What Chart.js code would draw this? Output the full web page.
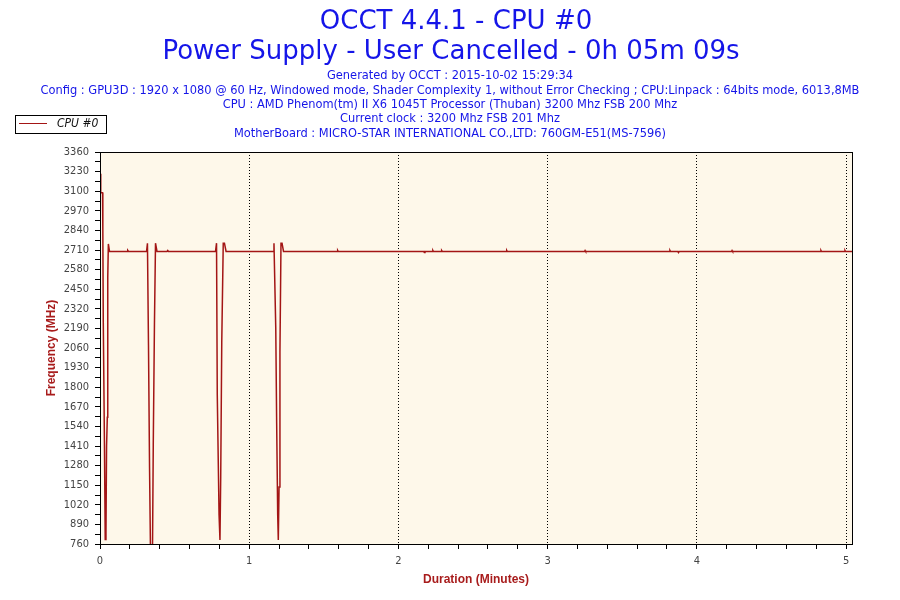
<!DOCTYPE html>
<html>
<head>
<meta charset="utf-8">
<title>OCCT 4.4.1 - CPU #0</title>
<script src="https://cdn.jsdelivr.net/npm/chart.js@4.4.0/dist/chart.umd.min.js"></script>
<style>
  html, body { margin: 0; padding: 0; background: #fff; }
  #chart { display: block; }
</style>
</head>
<body>
<canvas id="chart" width="900" height="600"></canvas>
<script>
// Header texts
const titleLines = ['OCCT 4.4.1 - CPU #0', 'Power Supply - User Cancelled - 0h 05m 09s'];
const infoLines = [
  'Generated by OCCT : 2015-10-02 15:29:34',
  'Config : GPU3D : 1920 x 1080 @ 60 Hz, Windowed mode, Shader Complexity 1, without Error Checking ; CPU:Linpack : 64bits mode, 6013,8MB',
  'CPU : AMD Phenom(tm) II X6 1045T Processor (Thuban) 3200 Mhz FSB 200 Mhz',
  'Current clock : 3200 Mhz FSB 201 Mhz',
  'MotherBoard : MICRO-STAR INTERNATIONAL CO.,LTD: 760GM-E51(MS-7596)'
];
const seriesName = 'CPU #0';

// Duration in minutes, frequency in MHz
const durationMinutes = [
  0.000, 0.005, 0.017, 0.019, 0.022, 0.030, 0.035, 0.040, 0.044, 0.049, 0.052, 0.056, 0.064,
  0.181, 0.186, 0.191,
  0.312, 0.318, 0.325, 0.332, 0.338, 0.352, 0.357, 0.365, 0.372, 0.382,
  0.449, 0.454, 0.459,
  0.774, 0.781, 0.786, 0.798, 0.804, 0.809, 0.816, 0.826, 0.834, 0.845,
  1.160, 1.166, 1.178, 1.184, 1.191, 1.195, 1.200, 1.206, 1.213, 1.220, 1.230,
  1.589, 1.593, 1.597,
  2.170, 2.174, 2.178,
  2.227, 2.231, 2.235,
  2.286, 2.290, 2.294,
  2.722, 2.726, 2.730,
  3.247, 3.251, 3.255,
  3.816, 3.820, 3.824,
  3.873, 3.877, 3.881,
  4.232, 4.236, 4.240,
  4.828, 4.832, 4.836,
  4.989, 4.993, 4.997,
  5.040
];
const cpu0Frequency = [
  3215, 3090, 3090, 2840, 2230, 1400, 790, 830, 1410, 1600, 2530, 2750, 2700,
  2700, 2707, 2700,
  2700, 2755, 2080, 1270, 740, 740, 1417, 2226, 2755, 2700,
  2700, 2707, 2700,
  2700, 2755, 1749, 953, 787, 1200, 2093, 2755, 2755, 2700,
  2700, 2755, 2193, 1563, 953, 787, 1138, 2034, 2755, 2755, 2700,
  2700, 2707, 2700,
  2700, 2693, 2700,
  2700, 2707, 2700,
  2700, 2706, 2700,
  2700, 2707, 2700,
  2700, 2707, 2700,
  2700, 2707, 2700,
  2700, 2693, 2700,
  2700, 2707, 2700,
  2700, 2707, 2700,
  2700, 2707, 2700,
  2700
];

// Tick labels
const frequencyTicks = [760, 890, 1020, 1150, 1280, 1410, 1540, 1670, 1800, 1930, 2060,
  2190, 2320, 2450, 2580, 2710, 2840, 2970, 3100, 3230, 3360];
const durationTicks = [0, 1, 2, 3, 4, 5];

const lineColor = '#A31515';
const axisTitleColor = '#A81C1C';
const textBlue = '#1515E8';

const plotBackground = {
  id: 'plotBackground',
  beforeDraw(chart) {
    const { ctx, chartArea: a } = chart;
    ctx.save();
    ctx.fillStyle = '#ffffff';
    ctx.fillRect(0, 0, chart.width, chart.height);
    ctx.fillStyle = '#FEF8EA';
    ctx.fillRect(a.left, a.top, a.right - a.left, a.bottom - a.top);
    ctx.restore();
  },
  afterDatasetsDraw(chart) {
    const { ctx, chartArea: a } = chart;
    ctx.save();
    ctx.strokeStyle = '#000';
    ctx.lineWidth = 1;
    ctx.strokeRect(Math.round(a.left) + 0.5, Math.round(a.top) + 0.5,
      Math.round(a.right - a.left), Math.round(a.bottom - a.top));
    ctx.restore();
  }
};

const headerText = {
  id: 'headerText',
  afterDraw(chart) {
    const ctx = chart.ctx;
    ctx.save();
    ctx.fillStyle = textBlue;
    ctx.textAlign = 'center';
    ctx.textBaseline = 'middle';
    ctx.font = '26px "DejaVu Sans", sans-serif';
    ctx.fillText(titleLines[0], 456, 22);
    ctx.fillText(titleLines[1], 451, 52);
    ctx.font = '12.7px "DejaVu Sans Condensed", "DejaVu Sans", sans-serif';
    infoLines.forEach((line, i) => ctx.fillText(line, 450, 76 + i * 14.3));
    ctx.restore();
  }
};

const legendBox = {
  id: 'legendBox',
  afterDraw(chart) {
    const ctx = chart.ctx;
    const ds = chart.data.datasets[0];
    ctx.save();
    ctx.fillStyle = '#fff';
    ctx.fillRect(15.5, 115.5, 91, 18);
    ctx.strokeStyle = '#000';
    ctx.lineWidth = 1;
    ctx.strokeRect(15.5, 115.5, 91, 18);
    ctx.strokeStyle = ds.borderColor;
    ctx.beginPath();
    ctx.moveTo(19, 123.5);
    ctx.lineTo(47, 123.5);
    ctx.stroke();
    ctx.fillStyle = '#111';
    ctx.font = 'italic 12px "DejaVu Sans Condensed", "DejaVu Sans", sans-serif';
    ctx.textBaseline = 'middle';
    ctx.fillText(ds.label, 57, 124);
    ctx.restore();
  }
};

new Chart(document.getElementById('chart'), {
  type: 'line',
  data: {
    datasets: [{
      label: seriesName,
      data: durationMinutes.map((x, i) => ({ x: x, y: cpu0Frequency[i] })),
      borderColor: lineColor,
      borderWidth: 1.5,
      pointRadius: 0,
      tension: 0,
      fill: false
    }]
  },
  options: {
    responsive: false,
    animation: false,
    layout: { padding: { top: 152, left: 0, right: 48, bottom: 0 } },
    plugins: {
      legend: { display: false },
      title: { display: false },
      tooltip: { enabled: false }
    },
    scales: {
      x: {
        type: 'linear',
        bounds: 'data',
        min: 0,
        max: 5.04,
        afterFit(scale) { scale.height = 56; },
        ticks: {
          stepSize: 0.2,
          includeBounds: false,
          autoSkip: false,
          maxRotation: 0,
          padding: 6,
          color: '#444',
          font: { family: '"DejaVu Sans Condensed", "DejaVu Sans", sans-serif', size: 11 },
          callback: (v) => durationTicks.includes(Math.round(v * 1000) / 1000) ? String(v) : ''
        },
        grid: {
          color: (c) => (c.tick && c.tick.value > 0 && durationTicks.includes(c.tick.value)) ? '#000' : 'rgba(0,0,0,0)',
          tickColor: '#000',
          tickLength: 5,
          lineWidth: 1
        },
        border: { color: '#000', width: 1, dash: [1, 2] },
        title: {
          display: true,
          text: 'Duration (Minutes)',
          color: axisTitleColor,
          font: { family: '"Liberation Sans", Arial, sans-serif', size: 12, weight: 'bold' },
          padding: { top: 4, bottom: 13 }
        }
      },
      y: {
        min: 760,
        max: 3360,
        afterFit(scale) { scale.width = 100; },
        ticks: {
          stepSize: 65,
          autoSkip: false,
          padding: 6,
          color: '#444',
          font: { family: '"DejaVu Sans Condensed", "DejaVu Sans", sans-serif', size: 11 },
          callback: (v) => frequencyTicks.includes(v) ? String(v) : ''
        },
        grid: {
          drawOnChartArea: false,
          tickColor: '#000',
          tickLength: 5
        },
        border: { color: '#000', width: 1 },
        title: {
          display: true,
          text: 'Frequency (MHz)',
          color: axisTitleColor,
          font: { family: '"Liberation Sans", Arial, sans-serif', size: 12, weight: 'bold' },
          padding: { top: 44, bottom: 0 }
        }
      }
    }
  },
  plugins: [plotBackground, headerText, legendBox]
});
</script>
</body>
</html>
